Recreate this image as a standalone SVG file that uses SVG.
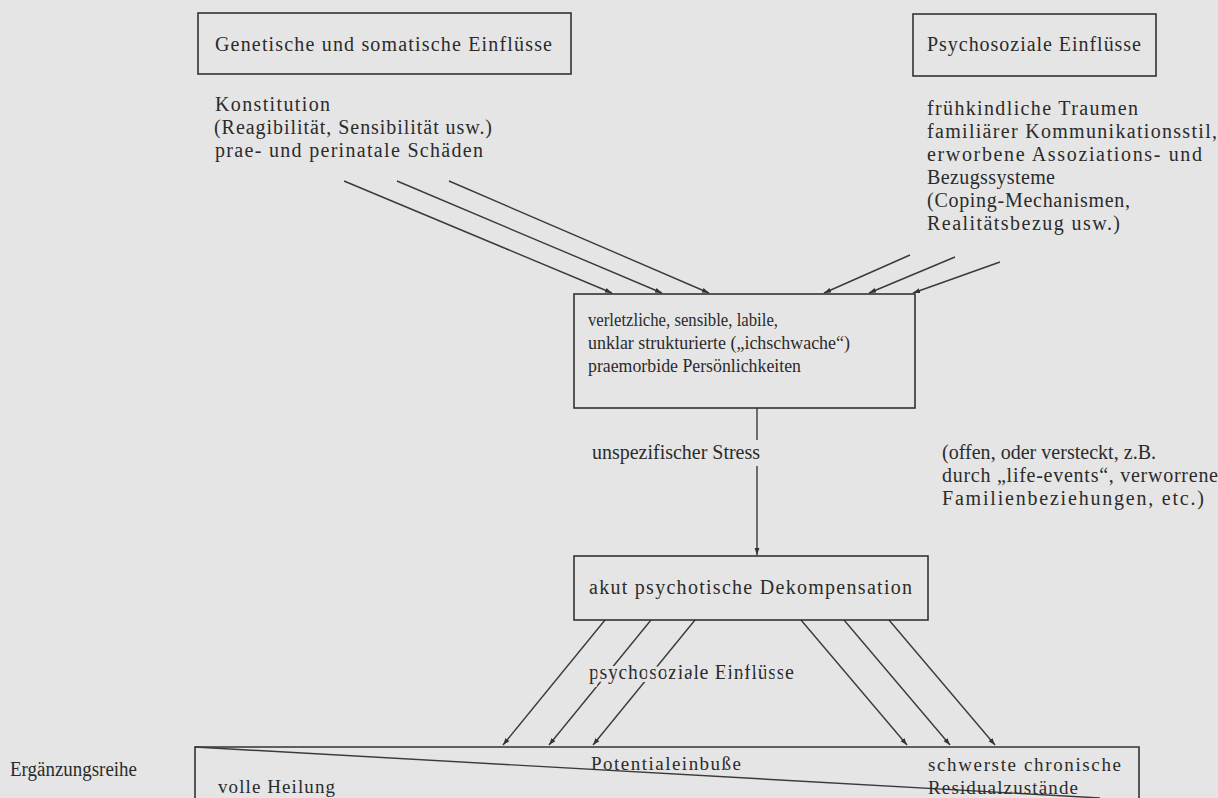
<svg xmlns="http://www.w3.org/2000/svg" width="1218" height="798" viewBox="0 0 1218 798">
<style>
text{font-family:"Liberation Serif","Times New Roman",serif;font-size:20px;fill:#2b2b2b}
.sm{font-size:19px}
.box{fill:none;stroke:#333;stroke-width:1.6}
.ln{fill:none;stroke:#3a3a3a;stroke-width:1.4}
.arr{fill:none;stroke:#3a3a3a;stroke-width:1.4;marker-end:url(#ah)}
.halo{stroke:#e5e5e5;stroke-width:6;paint-order:stroke}
</style>
<defs>
<marker id="ah" viewBox="0 0 10 10" refX="10" refY="5" markerWidth="7" markerHeight="7" markerUnits="userSpaceOnUse" orient="auto">
<path d="M0,1.5 L10,5 L0,8.5 Z" fill="#333"/>
</marker>
</defs>
<rect width="1218" height="798" fill="#e5e5e5"/>

<g id="connectors">
<line class="arr" x1="344" y1="181" x2="612" y2="293"/>
<line class="arr" x1="397" y1="181" x2="662" y2="293"/>
<line class="arr" x1="449" y1="181" x2="709" y2="293"/>
<line class="arr" x1="910" y1="255" x2="824" y2="293"/>
<line class="arr" x1="955" y1="257" x2="869" y2="293"/>
<line class="arr" x1="1000" y1="262" x2="913" y2="293"/>
<line class="ln" x1="757" y1="408" x2="757" y2="440"/>
<line class="arr" x1="757" y1="466" x2="757" y2="555"/>
<line class="arr" x1="605" y1="620" x2="503" y2="745"/>
<line class="arr" x1="651" y1="620" x2="549" y2="745"/>
<line class="arr" x1="695" y1="620" x2="593" y2="745"/>
<line class="arr" x1="801" y1="620" x2="907" y2="745"/>
<line class="arr" x1="844" y1="620" x2="950" y2="745"/>
<line class="arr" x1="889" y1="620" x2="995" y2="745"/>
<text class="halo" x="589" y="679" textLength="205">psychosoziale Einflüsse</text>
</g>

<g id="genetisch">
<rect class="box" x="198" y="13" width="373" height="61"/>
<text x="215" y="51" textLength="337">Genetische und somatische Einflüsse</text>
</g>

<g id="genetisch-text">
<text x="215" y="111" textLength="115">Konstitution</text>
<text x="214" y="134" textLength="278">(Reagibilität, Sensibilität usw.)</text>
<text x="215" y="157" textLength="268">prae- und perinatale Schäden</text>
</g>

<g id="psychosozial">
<rect class="box" x="913" y="14" width="243" height="62"/>
<text x="927" y="51" textLength="214">Psychosoziale Einflüsse</text>
</g>

<g id="psychosozial-text">
<text x="927" y="115" textLength="211">frühkindliche Traumen</text>
<text x="927" y="138" textLength="290">familiärer Kommunikationsstil,</text>
<text x="927" y="161" textLength="275">erworbene Assoziations- und</text>
<text x="927" y="184" textLength="128">Bezugssysteme</text>
<text x="927" y="207" textLength="203">(Coping-Mechanismen,</text>
<text x="927" y="230" textLength="193">Realitätsbezug usw.)</text>
</g>

<g id="persoenlichkeit">
<rect class="box" x="574" y="294" width="341" height="114"/>
<text class="sm" x="588" y="326" textLength="190" lengthAdjust="spacingAndGlyphs">verletzliche, sensible, labile,</text>
<text class="sm" x="588" y="349" textLength="262" lengthAdjust="spacingAndGlyphs">unklar strukturierte („ichschwache“)</text>
<text class="sm" x="588" y="372" textLength="213" lengthAdjust="spacingAndGlyphs">praemorbide Persönlichkeiten</text>
</g>

<g id="stress">
<text x="592" y="459" textLength="168" lengthAdjust="spacingAndGlyphs">unspezifischer Stress</text>
</g>

<g id="stress-note">
<text x="942" y="459" textLength="214">(offen, oder versteckt, z.B.</text>
<text x="942" y="482" textLength="276">durch „life-events“, verworrene</text>
<text x="942" y="505" textLength="262">Familienbeziehungen, etc.)</text>
</g>

<g id="dekompensation">
<rect class="box" x="574" y="556" width="354" height="64"/>
<text x="589" y="594" textLength="323">akut psychotische Dekompensation</text>
</g>

<g id="ergaenzungsreihe">
<text x="10" y="776" textLength="127" lengthAdjust="spacingAndGlyphs">Ergänzungsreihe</text>
<polyline class="box" points="195,798 195,747 1139,747 1139,798"/>
<line class="ln" x1="195" y1="747" x2="1100" y2="798"/>
<text class="sm" x="591" y="770" textLength="150">Potentialeinbuße</text>
<text class="sm" x="928" y="771" textLength="193">schwerste chronische</text>
<text class="sm" x="218" y="793" textLength="117">volle Heilung</text>
<text class="sm" x="928" y="794" textLength="150">Residualzustände</text>
</g>
</svg>
